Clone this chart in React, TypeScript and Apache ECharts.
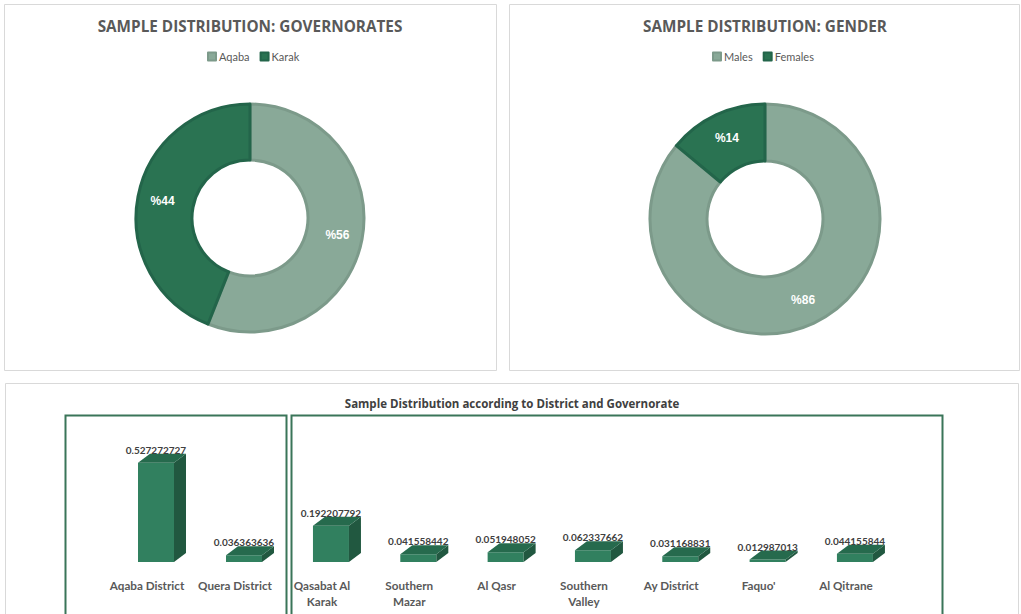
import React, { useEffect, useRef } from "react";
import * as echarts from "echarts";

const govNames = ["Aqaba", "Karak"];
const govValues = [56, 44];
const genderNames = ["Males", "Females"];
const genderValues = [86, 14];

const aqabaDistricts = ["Aqaba District", "Quera District"];
const aqabaValues = [0.527272727, 0.036363636];
const karakDistricts = [
  "Qasabat Al\nKarak",
  "Southern\nMazar",
  "Al Qasr",
  "Southern\nValley",
  "Ay District",
  "Faquo'",
  "Al Qitrane",
];
const karakValues = [
  0.192207792, 0.041558442, 0.051948052, 0.062337662, 0.031168831, 0.012987013,
  0.044155844,
];
const valueLabels = (vals: number[]) => vals.map((v) => v.toFixed(9));

const LIGHT = "#89A998";
const LIGHT_BORDER = "#7C9A8A";
const DARK = "#2A7352";
const DARK_BORDER = "#23654A";
const FONT = "Lato, 'Open Sans', sans-serif";
const TFONT = "'Open Sans', Lato, sans-serif";

function bar3d(labels: string[]) {
  return (params: any, api: any) => {
    const idx = api.value(0);
    const v = api.value(1);
    const top = api.coord([idx, v]);
    const base = api.coord([idx, 0]);
    const w = 36;
    const dx = 12;
    const dy = 9;
    const cx = top[0] + 9;
    const x0 = cx - w / 2;
    const x1 = cx + w / 2;
    const yT = top[1];
    const yB = base[1];
    return {
      type: "group",
      children: [
        {
          type: "rect",
          shape: { x: x0, y: yT, width: w, height: yB - yT },
          style: { fill: "#31805F" },
        },
        {
          type: "polygon",
          shape: {
            points: [
              [x1, yT],
              [x1 + dx, yT - dy],
              [x1 + dx, yB - dy],
              [x1, yB],
            ],
          },
          style: { fill: "#215840" },
        },
        {
          type: "polygon",
          shape: {
            points: [
              [x0, yT],
              [x1, yT],
              [x1 + dx, yT - dy],
              [x0 + dx, yT - dy],
            ],
          },
          style: { fill: "#266A4D" },
        },
        {
          type: "text",
          style: {
            text: labels[params.dataIndex],
            x: cx,
            y: yT - dy + 1,
            align: "center",
            verticalAlign: "bottom",
            fill: "#404040",
            font: `bold 10px ${FONT}`,
          },
          z2: 10,
        },
      ],
    };
  };
}

export default function App() {
  const ref = useRef<HTMLDivElement>(null);
  useEffect(() => {
    if (!ref.current) return;
    const chart = echarts.init(ref.current, null, { renderer: "svg" });
    const axisLabel = {
      color: "#595959",
      fontWeight: "bold" as const,
      fontSize: 11.7,
      fontFamily: FONT,
      lineHeight: 16,
      margin: 15,
      interval: 0,
    };
    const yBase = {
      type: "value" as const,
      min: 0,
      max: 0.6,
      show: false,
      splitLine: { show: false },
    };
    const pieLabel = {
      show: true,
      position: "inside" as const,
      color: "#FFFFFF",
      fontWeight: "bold" as const,
      fontSize: 12,
      fontFamily: "'Liberation Sans', Arial, sans-serif",
      formatter: (p: any) => "%" + p.value,
    };
    const titleStyle = {
      color: "#595959",
      fontSize: 15.3,
      fontWeight: "bold" as const,
      fontFamily: TFONT,
    };
    chart.setOption({
      animation: false,
      graphic: [
        {
          type: "rect",
          z: 0,
          shape: { x: 4.5, y: 4.5, width: 492, height: 366 },
          style: { fill: "#fff", stroke: "#D9D9D9", lineWidth: 1 },
        },
        {
          type: "rect",
          z: 0,
          shape: { x: 509.5, y: 4.5, width: 510, height: 366 },
          style: { fill: "#fff", stroke: "#D9D9D9", lineWidth: 1 },
        },
        {
          type: "rect",
          z: 0,
          shape: { x: 5.5, y: 383.5, width: 1013, height: 260 },
          style: { fill: "#fff", stroke: "#D9D9D9", lineWidth: 1 },
        },
        {
          type: "rect",
          z: 1,
          shape: { x: 65.5, y: 415.5, width: 221, height: 230 },
          style: { fill: "none", stroke: "#3A7559", lineWidth: 2 },
        },
        {
          type: "rect",
          z: 1,
          shape: { x: 291.5, y: 415.5, width: 651, height: 230 },
          style: { fill: "none", stroke: "#3A7559", lineWidth: 2 },
        },
      ],
      title: [
        {
          text: "SAMPLE DISTRIBUTION: GOVERNORATES",
          left: 250,
          top: 18,
          textAlign: "center",
          padding: 0,
          textStyle: titleStyle,
        },
        {
          text: "SAMPLE DISTRIBUTION: GENDER",
          left: 765,
          top: 18,
          textAlign: "center",
          padding: 0,
          textStyle: titleStyle,
        },
        {
          text: "Sample Distribution according to District and Governorate",
          left: 512,
          top: 397,
          textAlign: "center",
          padding: 0,
          textStyle: {
            color: "#404040",
            fontSize: 11.5,
            fontWeight: "bold",
            fontFamily: TFONT,
          },
        },
      ],
      legend: [
        {
          data: govNames,
          left: 207,
          top: 51,
          padding: 0,
          icon: "rect",
          itemWidth: 8,
          itemHeight: 8,
          itemGap: 10,
          textStyle: { color: "#595959", fontSize: 11, fontFamily: FONT, padding: [0, 0, 0, -2] },
        },
        {
          data: genderNames,
          left: 712,
          top: 51,
          padding: 0,
          icon: "rect",
          itemWidth: 8,
          itemHeight: 8,
          itemGap: 10,
          textStyle: { color: "#595959", fontSize: 11, fontFamily: FONT, padding: [0, 0, 0, -2] },
        },
      ],
      grid: [
        { left: 103, width: 176, top: 449.2, height: 112.8 },
        { left: 278.3, width: 611.3, top: 449.2, height: 112.8 },
      ],
      xAxis: [
        {
          type: "category",
          gridIndex: 0,
          data: aqabaDistricts,
          axisLine: { show: false },
          axisTick: { show: false },
          axisLabel,
        },
        {
          type: "category",
          gridIndex: 1,
          data: karakDistricts,
          axisLine: { show: false },
          axisTick: { show: false },
          axisLabel,
        },
      ],
      yAxis: [
        { ...yBase, gridIndex: 0 },
        { ...yBase, gridIndex: 1 },
      ],
      series: [
        {
          type: "pie",
          center: [250, 218],
          radius: [58, 114],
          startAngle: 90,
          clockwise: true,
          label: pieLabel,
          labelLine: { show: false },
          emphasis: { disabled: true },
          data: govNames.map((n, i) => ({
            name: n,
            value: govValues[i],
            itemStyle: {
              color: i === 0 ? LIGHT : DARK,
              borderColor: i === 0 ? LIGHT_BORDER : DARK_BORDER,
              borderWidth: 3,
            },
          })),
        },
        {
          type: "pie",
          center: [765, 219],
          radius: [58, 115],
          startAngle: 90,
          clockwise: true,
          label: pieLabel,
          labelLine: { show: false },
          emphasis: { disabled: true },
          data: genderNames.map((n, i) => ({
            name: n,
            value: genderValues[i],
            itemStyle: {
              color: i === 0 ? LIGHT : DARK,
              borderColor: i === 0 ? LIGHT_BORDER : DARK_BORDER,
              borderWidth: 3,
            },
          })),
        },
        {
          type: "custom",
          xAxisIndex: 0,
          yAxisIndex: 0,
          renderItem: bar3d(valueLabels(aqabaValues)),
          data: aqabaValues.map((v, i) => [i, v]),
        },
        {
          type: "custom",
          xAxisIndex: 1,
          yAxisIndex: 1,
          renderItem: bar3d(valueLabels(karakValues)),
          data: karakValues.map((v, i) => [i, v]),
        },
      ],
    });
    return () => chart.dispose();
  }, []);
  return (
    <div
      ref={ref}
      style={{
        position: "absolute",
        left: 0,
        top: 0,
        width: 1021,
        height: 614,
        background: "#fff",
      }}
    />
  );
}
